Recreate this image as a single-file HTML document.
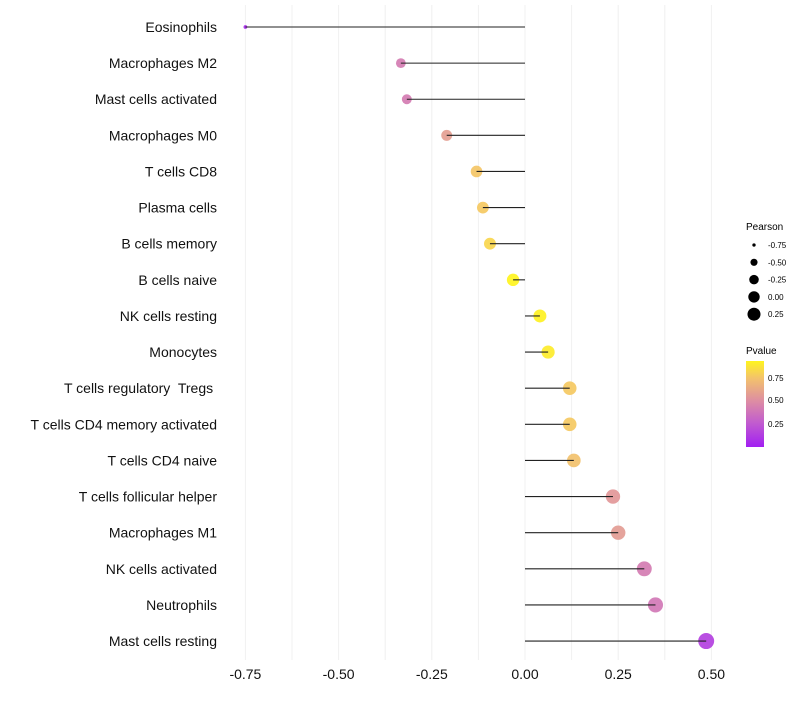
<!DOCTYPE html>
<html><head><meta charset="utf-8"><style>
body{margin:0;background:#fff;font-family:"Liberation Sans",sans-serif;}
svg text{font-family:"Liberation Sans",sans-serif;white-space:pre;}
</style></head><body>
<svg id="c" width="800" height="700">
<defs><linearGradient id="pg" x1="0" y1="1" x2="0" y2="0">
<stop offset="0" stop-color="#a21ff2"/><stop offset="0.27" stop-color="#c05ad0"/><stop offset="0.52" stop-color="#dc8aa6"/><stop offset="0.8" stop-color="#f3c26c"/><stop offset="1" stop-color="#fff41e"/></linearGradient></defs>
<g id="grid"></g>
<g id="marks"></g>
<g id="ylab"></g>
<g id="xlab"></g>
<g id="leg1">
<text x="746" y="230" font-size="10">Pearson</text>
</g>
<g>
<text x="746" y="354" font-size="10">Pvalue</text>
<rect x="746" y="361" width="18" height="86" fill="url(#pg)"/>
<text x="768" y="381" font-size="8">0.75</text>
<text x="768" y="403" font-size="8">0.50</text>
<text x="768" y="427" font-size="8">0.25</text>
</g>
</svg>
<script>
const categories=["Eosinophils","Macrophages M2","Mast cells activated","Macrophages M0","T cells CD8","Plasma cells","B cells memory","B cells naive","NK cells resting","Monocytes","T cells regulatory  Tregs ","T cells CD4 memory activated","T cells CD4 naive","T cells follicular helper","Macrophages M1","NK cells activated","Neutrophils","Mast cells resting"];
const pearson=[-0.75,-0.333,-0.317,-0.21,-0.13,-0.113,-0.094,-0.032,0.04,0.062,0.12,0.12,0.131,0.236,0.25,0.32,0.35,0.486];
const pvalue=[0.05,0.42,0.42,0.58,0.76,0.77,0.82,0.93,0.92,0.9,0.77,0.77,0.74,0.55,0.57,0.42,0.4,0.15];
const xTicks=[-0.75,-0.5,-0.25,0,0.25,0.5];
const xTickLabels=["-0.75","-0.50","-0.25","0.00","0.25","0.50"];
const legendValues=[-0.75,-0.5,-0.25,0,0.25];
const legendLabels=["-0.75","-0.50","-0.25","0.00","0.25"];
const NS='http://www.w3.org/2000/svg';
const x=v=>525+v*372.8;
const y=i=>27+i*36.12;
const r=v=>{const f=Math.max(0,(v+0.76)/1.25);return Math.sqrt(3+f*(64-3));};
const stops=[[0,[162,31,242]],[0.27,[192,90,208]],[0.52,[220,138,166]],[0.8,[243,194,108]],[1,[255,244,30]]];
const col=p=>{const t=Math.min(1,Math.max(0,(p-0.01)/0.92));for(let k=1;k<stops.length;k++){if(t<=stops[k][0]){const a=stops[k-1],b=stops[k],u=(t-a[0])/(b[0]-a[0]);return 'rgb('+a[1].map((c,j)=>Math.round(c+(b[1][j]-c)*u)).join(',')+')';}}return 'rgb(255,244,30)';};
function mk(tag,at,parent){const e=document.createElementNS(NS,tag);for(const k in at)e.setAttribute(k,at[k]);document.getElementById(parent).appendChild(e);return e;}
for(let v=-0.75;v<=0.5001;v+=0.125){const l=mk('line',{x1:x(v),x2:x(v),y1:5,y2:660,stroke:'#f0f0f0','stroke-width':1},'grid');

}
xTicks.forEach((v,i)=>{const t=mk('text',{x:x(v),y:679,'font-size':14,'text-anchor':'middle',fill:'#111'},'xlab');t.textContent=xTickLabels[i];

});
categories.forEach((c,i)=>{
const t=mk('text',{x:217,y:y(i)+5,'font-size':14,'text-anchor':'end',fill:'#111'},'ylab');t.textContent=c;


const p=mk('circle',{cx:x(pearson[i]),cy:y(i),r:r(pearson[i]),fill:col(pvalue[i]),'fill-opacity':0.92},'marks');


const l=mk('line',{x1:x(0),x2:x(pearson[i]),y1:y(i),y2:y(i),stroke:'#222','stroke-width':1.1},'marks');


});
legendValues.forEach((v,i)=>{const cy=245+i*17.3;
const c=mk('circle',{cx:754,cy:cy,r:r(v)*0.9,fill:'#000'},'leg1');


const t=mk('text',{x:768,y:cy+3,'font-size':8},'leg1');t.textContent=legendLabels[i];

});
</script>
</body></html>
